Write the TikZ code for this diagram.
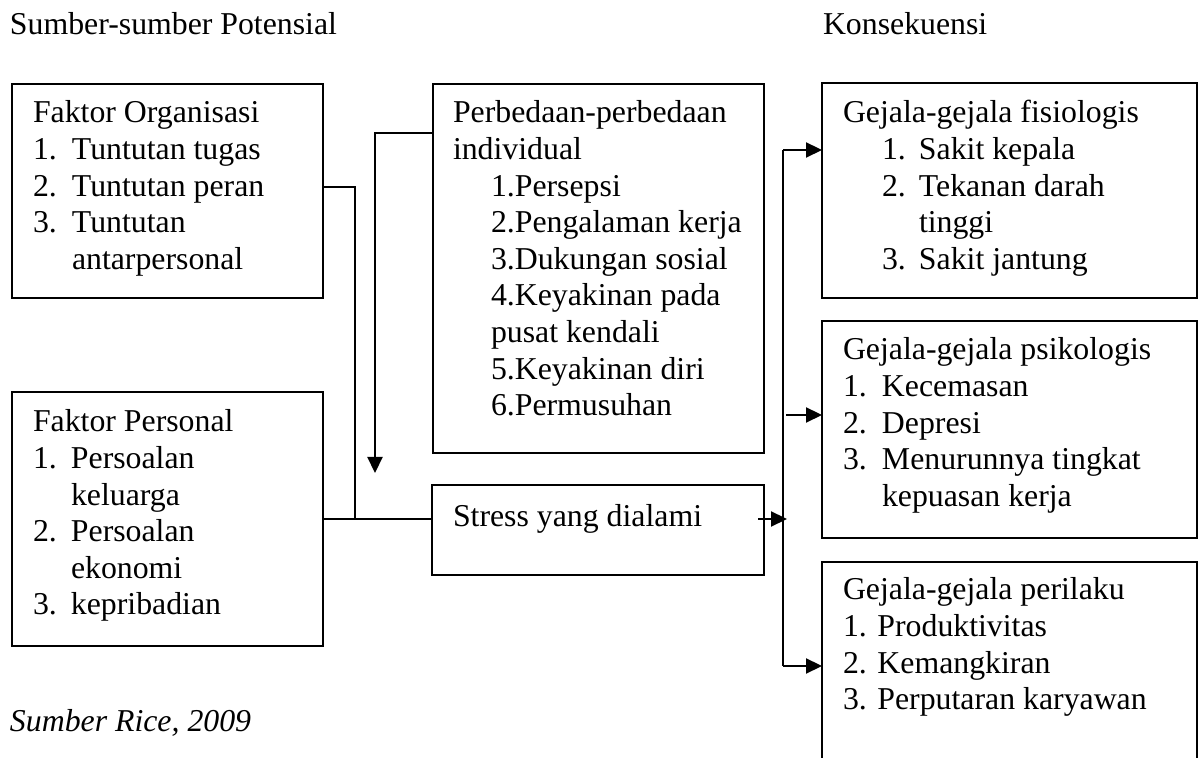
\documentclass[tikz,border=0pt]{standalone}
\usepackage{fontspec}
\setmainfont{Liberation Serif}
\usetikzlibrary{arrows.meta}
\begin{document}
\begin{tikzpicture}[x=0.5pt,y=-0.5pt,
  box/.style={draw, line width=1.1pt, inner sep=0pt, outer sep=0pt, anchor=north west},
  txt/.style={inner sep=0pt, outer sep=0pt, anchor=base west, font=\fontsize{15.9}{18.3}\selectfont},
  conn/.style={line width=1.1pt},
  arr/.style={line width=1.1pt, -{Triangle[length=8pt,width=7.5pt]}}]
\useasboundingbox (0,0) rectangle (1201,758);
\clip (0,0) rectangle (1201,758);
\fill[white] (0,0) rectangle (1201,758);

% headings
\node[txt] (hsrc) at (10,35) {Sumber-sumber Potensial};
\node[txt] (hkon) at (823,35) {Konsekuensi};
\node[txt, font=\fontsize{15.9}{18.3}\selectfont\itshape] (cite) at (10,732) {Sumber Rice, 2009};

% boxes
\node[box, minimum width=155.5pt, minimum height=107pt] (org) at (12,84) {};
\node[box, minimum width=155.5pt, minimum height=127pt] (pers) at (12,392) {};
\node[box, minimum width=165.5pt, minimum height=184.5pt] (perb) at (433,84) {};
\node[box, minimum width=166pt, minimum height=45pt] (stress) at (432,485) {};
\node[box, minimum width=187.5pt, minimum height=107.5pt] (fis) at (822,83) {};
\node[box, minimum width=187.5pt, minimum height=108.5pt] (psi) at (822,321) {};
\node[box, minimum width=187.5pt, minimum height=130pt] (peri) at (822,562) {};

% box texts
\node[txt] (torg) at (33,123) {\begin{tabular}[t]{@{}p{19.5pt}@{}l@{}}
\multicolumn{2}{@{}l@{}}{Faktor Organisasi}\\
1. & Tuntutan tugas\\
2. & Tuntutan peran\\
3. & Tuntutan\\
   & antarpersonal
\end{tabular}};

\node[txt] (tpers) at (33,432) {\begin{tabular}[t]{@{}p{19pt}@{}l@{}}
\multicolumn{2}{@{}l@{}}{Faktor Personal}\\
1. & Persoalan\\
   & keluarga\\
2. & Persoalan\\
   & ekonomi\\
3. & kepribadian
\end{tabular}};

\node[txt] (tperb) at (453,123) {\begin{tabular}[t]{@{}p{19pt}@{}l@{}}
\multicolumn{2}{@{}l@{}}{Perbedaan-perbedaan}\\
\multicolumn{2}{@{}l@{}}{individual}\\
 & 1.Persepsi\\
 & 2.Pengalaman kerja\\
 & 3.Dukungan sosial\\
 & 4.Keyakinan pada\\
 & pusat kendali\\
 & 5.Keyakinan diri\\
 & 6.Permusuhan
\end{tabular}};

\node[txt] (tstress) at (453,527) {Stress yang dialami};

\node[txt] (tfis) at (843,123) {\begin{tabular}[t]{@{}p{19.5pt}@{}p{18.5pt}@{}l@{}}
\multicolumn{3}{@{}l@{}}{Gejala-gejala fisiologis}\\
 & 1. & Sakit kepala\\
 & 2. & Tekanan darah\\
 &    & tinggi\\
 & 3. & Sakit jantung
\end{tabular}};

\node[txt] (tpsi) at (843,360) {\begin{tabular}[t]{@{}p{19.5pt}@{}l@{}}
\multicolumn{2}{@{}l@{}}{Gejala-gejala psikologis}\\
1. & Kecemasan\\
2. & Depresi\\
3. & Menurunnya tingkat\\
   & kepuasan kerja
\end{tabular}};

\node[txt] (tperi) at (843,600) {\begin{tabular}[t]{@{}l@{}}
Gejala-gejala perilaku\\
1. Produktivitas\\
2. Kemangkiran\\
3. Perputaran karyawan
\end{tabular}};

% connectors on the left
\coordinate (j1) at (355,187);
\coordinate (j2) at (355,519);
\draw[conn] (org.east |- j1) -- (j1) -- (j2);
\draw[conn] (pers.east |- j2) -- (stress.west |- j2);

\coordinate (k1) at (375,133);
\coordinate (k2) at (375,473);
\draw[arr] (perb.west |- k1) -- (k1) -- (k2);

% connectors on the right
\coordinate (v1) at (783,150);
\coordinate (v2) at (787,519);
\coordinate (v3) at (783,666);
\coordinate (v4) at (786,415);
\draw[arr] ([xshift=-3pt]stress.east |- v2) -- (v2);
\draw[line width=1.3pt] (v1) -- (v3);
\draw[arr] (v1) -- (fis.west |- v1);
\draw[arr] (v4) -- (psi.west |- v4);
\draw[arr] (v3) -- (peri.west |- v3);
\end{tikzpicture}
\end{document}
